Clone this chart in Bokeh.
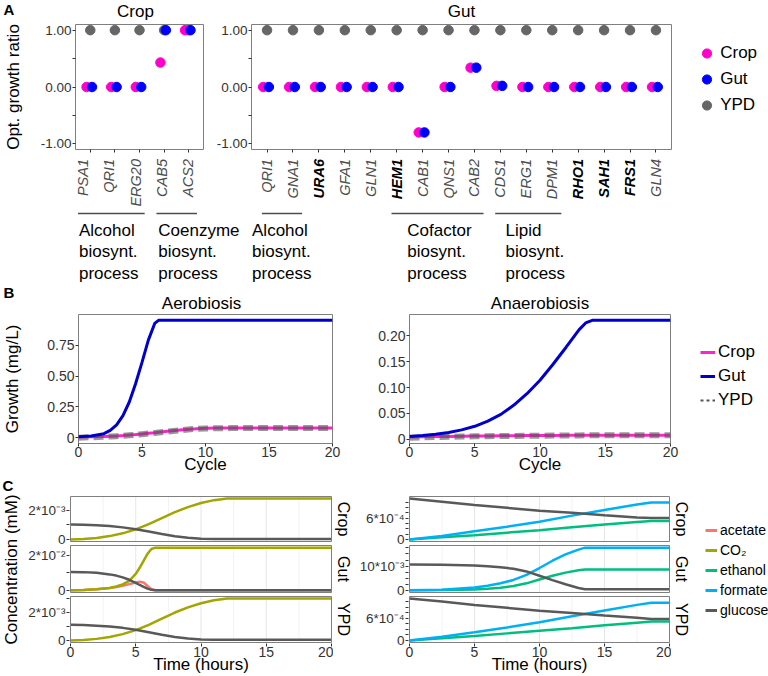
import math

from bokeh.core.properties import value
from bokeh.embed import file_html
from bokeh.layouts import column, row
from bokeh.models import (FixedTicker, Label, Legend, LegendItem,
                          LinearAxis, Range1d)
from bokeh.plotting import figure
from bokeh.resources import INLINE

# ------------------------------------------------------------------ data
# A: optimal growth ratio per deleted gene
crop_genes = ["PSA1", "QRI1", "ERG20", "CAB5", "ACS2"]
crop_genes_crop = [0.0, 0.0, 0.0, 0.43, 1.0]
crop_genes_gut = [0.0, 0.0, 0.0, 1.0, 1.0]
crop_genes_ypd = [1.0, 1.0, 1.0, 1.0, 1.0]

gut_genes = ["QRI1", "GNA1", "URA6", "GFA1", "GLN1", "HEM1", "CAB1", "QNS1",
             "CAB2", "CDS1", "ERG1", "DPM1", "RHO1", "SAH1", "FRS1", "GLN4"]
gut_genes_crop = [0.0, 0.0, 0.0, 0.0, 0.0, 0.0, -0.80, 0.0,
                  0.34, 0.02, 0.0, 0.0, 0.0, 0.0, 0.0, 0.0]
gut_genes_gut = [0.0, 0.0, 0.0, 0.0, 0.0, 0.0, -0.80, 0.0,
                 0.34, 0.02, 0.0, 0.0, 0.0, 0.0, 0.0, 0.0]
gut_genes_ypd = [1.0] * 16
gut_bold_genes = ["URA6", "HEM1", "RHO1", "SAH1", "FRS1"]

# GO process groups: (label, first gene position, last gene position)
crop_groups = [("Alcohol\nbiosynt.\nprocess", 1, 3),
               ("Coenzyme\nbiosynt.\nprocess", 4, 5)]
gut_groups = [("Alcohol\nbiosynt.\nprocess", 1, 2),
              ("Cofactor\nbiosynt.\nprocess", 6, 9),
              ("Lipid\nbiosynt.\nprocess", 10, 12)]

# B: growth curves
b_aer_cycle = [0, 1, 2, 2.5, 3, 3.5, 4, 4.5, 5, 5.5, 6, 6.3, 7, 8, 9, 10, 11, 12, 14, 16, 18, 20]
b_aer_gut = [0.010, 0.015, 0.034, 0.060, 0.105, 0.180, 0.290, 0.440, 0.610, 0.790, 0.925,
             0.950, 0.950, 0.950, 0.950, 0.950, 0.950, 0.950, 0.950, 0.950, 0.950, 0.950]
b_aer_crop = [0.008, 0.009, 0.012, 0.014, 0.016, 0.019, 0.023, 0.027, 0.032, 0.037, 0.042,
              0.046, 0.053, 0.063, 0.072, 0.077, 0.079, 0.079, 0.079, 0.079, 0.079, 0.079]
b_aer_ypd = [0.002, 0.005, 0.009, 0.011, 0.014, 0.017, 0.021, 0.025, 0.030, 0.035, 0.040,
             0.044, 0.051, 0.062, 0.071, 0.076, 0.078, 0.079, 0.079, 0.079, 0.079, 0.079]

b_ana_cycle = [0, 1, 2, 3, 4, 5, 6, 7, 8, 9, 10, 11, 12, 12.5, 13, 13.5, 14, 16, 18, 20]
b_ana_gut = [0.005, 0.007, 0.0095, 0.013, 0.018, 0.025, 0.035, 0.048, 0.066, 0.088, 0.114,
             0.145, 0.178, 0.195, 0.212, 0.225, 0.230, 0.230, 0.230, 0.230]
b_ana_crop = [0.004, 0.0045, 0.005, 0.0054, 0.0057, 0.006, 0.0063, 0.0066, 0.0068, 0.007,
              0.0072, 0.0073, 0.0074, 0.0075, 0.0075, 0.0076, 0.0076, 0.0077, 0.0078, 0.0078]
b_ana_ypd = [0.003, 0.0036, 0.0042, 0.0047, 0.0051, 0.0055, 0.0058, 0.0061, 0.0064, 0.0066,
             0.0068, 0.007, 0.0071, 0.0072, 0.0073, 0.0074, 0.0075, 0.0076, 0.0077, 0.0078]

# C: metabolite concentrations, aerobiosis
c_aer_crop_time = [0, 1, 2, 3, 4, 5, 6, 7, 8, 9, 10, 11, 12, 14, 16, 18, 20]
c_aer_crop_co2 = [0.0, 0.00003, 0.0001, 0.00023, 0.00042, 0.00069, 0.00105, 0.00147, 0.00188,
                  0.00222, 0.0025, 0.0027, 0.00281, 0.00281, 0.00281, 0.00281, 0.00281]
c_aer_crop_glucose = [0.00103, 0.00101, 0.00098, 0.00092, 0.00083, 0.0007, 0.00054, 0.00037,
                      0.00022, 0.00011, 0.00005, 0.00003, 0.00003, 0.00003, 0.00003, 0.00003,
                      0.00003]

c_aer_gut_time = [0, 1, 2, 3, 3.5, 4, 4.5, 5, 5.3, 5.6, 5.9, 6.2, 6.5, 8, 10, 12, 14, 16, 18, 20]
c_aer_gut_acetate = [0.0, 0.0002, 0.0006, 0.0013, 0.0019, 0.0027, 0.0036, 0.0045, 0.0049, 0.0045,
                     0.0025, 0.0006, 0.0001, 0.0001, 0.0001, 0.0001, 0.0001, 0.0001, 0.0001, 0.0001]
c_aer_gut_co2 = [0.0, 0.0002, 0.0006, 0.0014, 0.0022, 0.0034, 0.0055, 0.0095, 0.013, 0.017,
                 0.021, 0.0238, 0.0246, 0.0246, 0.0246, 0.0246, 0.0246, 0.0246, 0.0246, 0.0246]
c_aer_gut_glucose = [0.0106, 0.0105, 0.0101, 0.0092, 0.0085, 0.0075, 0.0061, 0.0043, 0.0031, 0.002,
                     0.001, 0.0003, 0.0001, 0.0001, 0.0001, 0.0001, 0.0001, 0.0001, 0.0001, 0.0001]

c_aer_ypd_time = [0, 1, 2, 3, 4, 5, 6, 7, 8, 9, 10, 11, 12, 14, 16, 18, 20]
c_aer_ypd_co2 = [0.0, 0.00003, 0.00011, 0.00025, 0.00045, 0.00074, 0.00112, 0.00157, 0.002,
                 0.00237, 0.00267, 0.00288, 0.003, 0.003, 0.003, 0.003, 0.003]
c_aer_ypd_glucose = [0.00112, 0.0011, 0.00106, 0.001, 0.0009, 0.00076, 0.00059, 0.00041, 0.00025,
                     0.00013, 0.00006, 0.00004, 0.00004, 0.00004, 0.00004, 0.00004, 0.00004]

# C: metabolite concentrations, anaerobiosis
c_ana_crop_time = [0, 2.5, 5, 7.5, 10, 12.5, 15, 17.5, 18.6, 20]
c_ana_crop_ethanol = [0.0, 0.00006, 0.00012, 0.00019, 0.00026, 0.00034, 0.00042, 0.00049, 0.00052, 0.00052]
c_ana_crop_formate = [0.0, 0.0001, 0.00023, 0.00036, 0.0005, 0.00067, 0.00083, 0.00098, 0.00104, 0.00104]
c_ana_crop_glucose = [0.00115, 0.00106, 0.00097, 0.00089, 0.00081, 0.00075, 0.00068, 0.00062, 0.0006, 0.0006]

c_ana_gut_time = [0, 2.5, 5, 6, 7, 8, 9, 10, 11, 12, 13, 13.5, 15, 17.5, 20]
c_ana_gut_ethanol = [0.0, 0.0001, 0.0004, 0.0007, 0.0011, 0.0018, 0.0029, 0.0045, 0.006, 0.0073,
                     0.0083, 0.0086, 0.0086, 0.0086, 0.0086]
c_ana_gut_formate = [0.0, 0.0003, 0.0012, 0.0019, 0.0029, 0.0043, 0.0064, 0.0092, 0.0122, 0.0148,
                     0.0168, 0.0176, 0.0176, 0.0176, 0.0176]
c_ana_gut_glucose = [0.0107, 0.0106, 0.0102, 0.0099, 0.0095, 0.0089, 0.0078, 0.006, 0.0042, 0.0025,
                     0.001, 0.0005, 0.0005, 0.0005, 0.0005]

c_ana_ypd_time = [0, 2.5, 5, 7.5, 10, 12.5, 15, 17.5, 18.6, 20]
c_ana_ypd_ethanol = [0.0, 0.00006, 0.00012, 0.00019, 0.00026, 0.00033, 0.00041, 0.00048, 0.00051, 0.00051]
c_ana_ypd_formate = [0.0, 0.0001, 0.00022, 0.00035, 0.00049, 0.00065, 0.00081, 0.00096, 0.00102, 0.00102]
c_ana_ypd_glucose = [0.00113, 0.00105, 0.00096, 0.00088, 0.0008, 0.00074, 0.00067, 0.00061, 0.00058, 0.00058]

metabolites = ["acetate", "CO\u2082", "ethanol", "formate", "glucose"]
facet_names = ["Crop", "Gut", "YPD"]

# ------------------------------------------------------------------ styles
FONT = "Liberation Sans"
TICK = "#333333"
FRAME = "#7f7f7f"
DOT = {"Crop": "#FF00CC", "Gut": "#0000FF", "YPD": "#666666"}
LINE = {"Crop": "#FF22CC", "Gut": "#0000CD", "YPD": "#555555"}
MET = {"acetate": "#F8766D", "CO\u2082": "#A3A500", "ethanol": "#00BF7D",
       "formate": "#00B0F6", "glucose": "#595959"}


class Frame:
    """Page placement of one figure and of its plotting frame."""

    def __init__(self, fig_left, fig_top, width, height, left, right, top, bottom, x_range, y_range):
        self.fig_left, self.fig_top = fig_left, fig_top
        self.width, self.height = width, height
        self.left, self.right, self.top, self.bottom = left, right, top, bottom
        self.x_range, self.y_range = x_range, y_range

    def x(self, px):
        x0, x1 = self.x_range
        return x0 + (px - self.left) / (self.right - self.left) * (x1 - x0)

    def y(self, py):
        y0, y1 = self.y_range
        return y0 + (self.bottom - py) / (self.bottom - self.top) * (y1 - y0)

    def py(self, v):
        y0, y1 = self.y_range
        return self.bottom - (v - y0) / (y1 - y0) * (self.bottom - self.top)

    def figure(self, outline=True):
        p = figure(width=self.width, height=self.height,
                   x_range=Range1d(*self.x_range), y_range=Range1d(*self.y_range),
                   x_axis_location=None, y_axis_location=None, title=None,
                   min_border_left=self.left - self.fig_left,
                   min_border_right=self.fig_left + self.width - self.right,
                   min_border_top=self.top - self.fig_top,
                   min_border_bottom=self.fig_top + self.height - self.bottom,
                   output_backend="svg", toolbar_location=None)
        p.grid.visible = False
        p.outline_line_color = FRAME if outline else None
        p.outline_line_width = 1
        p.background_fill_color = "white"
        p.border_fill_color = "white"
        return p


def page_frame(fig_left, fig_top, width, height, top=None, bottom=None):
    """A figure whose data coordinates are page pixels (y grows downwards)."""
    top = fig_top if top is None else top
    bottom = fig_top + height if bottom is None else bottom
    return Frame(fig_left, fig_top, width, height, fig_left, fig_left + width,
                 top, bottom, (fig_left, fig_left + width), (bottom, top))


def text_label(x, y, text, size="17px", color="black", style="normal",
               align="center", baseline="middle", angle=0.0):
    return Label(x=x, y=y, text=text, angle=angle,
                 text_font=FONT, text_font_size=size, text_color=color,
                 text_font_style=style, text_align=align, text_baseline=baseline)


def add_text(p, fr, px, py, text, **kw):
    p.add_layout(text_label(fr.x(px), fr.y(py), text, **kw))


def style_axis(ax, size, title, title_standoff):
    ax.axis_line_color = None
    ax.major_tick_in = 0
    ax.major_tick_out = 3
    ax.minor_tick_in = 0
    ax.minor_tick_out = 3
    ax.major_tick_line_color = TICK
    ax.minor_tick_line_color = TICK
    ax.major_label_text_font = FONT
    ax.major_label_text_font_size = size
    ax.major_label_text_color = TICK
    ax.major_label_standoff = 1
    if title:
        ax.axis_label = title
        ax.axis_label_standoff = title_standoff
        ax.axis_label_text_font = FONT
        ax.axis_label_text_font_size = "17px"
        ax.axis_label_text_font_style = "normal"
        ax.axis_label_text_color = "black"


def add_yaxis(p, ticks, labels, minor=(), size="14px", title=None, title_standoff=10):
    ax = LinearAxis(ticker=FixedTicker(ticks=list(ticks), minor_ticks=list(minor)))
    ax.major_label_overrides = dict(zip(ticks, labels))
    style_axis(ax, size, title, title_standoff)
    p.add_layout(ax, "left")


def add_xaxis(p, ticks, labels, size="14px", title=None, title_standoff=0):
    ax = LinearAxis(ticker=FixedTicker(ticks=list(ticks)))
    ax.major_label_overrides = dict(zip(ticks, labels))
    style_axis(ax, size, title, title_standoff)
    ax.major_label_standoff = 0
    p.add_layout(ax, "below")


def padded(*series):
    lo = min(min(s) for s in series)
    hi = max(max(s) for s in series)
    pad = 0.05 * (hi - lo)
    return (lo - pad, hi + pad)


def legend_figure(fr, entries, glyph_w, glyph_h, standoff, size, key_center_x, first_center_y):
    p = fr.figure(outline=False)
    items = []
    off = -1.0e6  # the key renderers hold one point far outside the view
    for label, kind, style in entries:
        if kind == "dot":
            r = p.scatter(x=[off], y=[off], marker="circle", **style)
        else:
            r = p.line(x=[off, off - 1], y=[off, off], **style)
        items.append(LegendItem(label=label, renderers=[r]))
    vx = key_center_x - fr.left - glyph_w / 2
    legend_bottom = first_center_y - glyph_h / 2 + glyph_h * len(entries)
    vy = fr.bottom - legend_bottom
    leg = Legend(items=items, location=(vx, vy), orientation="vertical",
                 glyph_width=glyph_w, glyph_height=glyph_h, label_height=glyph_h,
                 label_width=10, spacing=0, padding=0, margin=0, label_standoff=standoff,
                 label_text_font=FONT, label_text_font_size=size, label_text_color="black",
                 border_line_color=None, background_fill_alpha=0)
    p.add_layout(leg)
    return p


# ------------------------------------------------------------------ panel A
A_YR = (-1.1, 1.1)
crop_fr = Frame(0, 21, 207, 134, 67, 203, 24, 149, (0.4, len(crop_genes) + 0.6), A_YR)
gut_fr = Frame(207, 21, 483, 134, 251, 671, 24, 149, (0.4, len(gut_genes) + 0.6), A_YR)

titleA_fr = page_frame(0, 0, 768, 21)
titleA = titleA_fr.figure(outline=False)
add_text(titleA, titleA_fr, 3, 8.5, "A", size="15px", style="bold", align="left")
add_text(titleA, titleA_fr, (crop_fr.left + crop_fr.right) / 2, 11.3, "Crop")
add_text(titleA, titleA_fr, (gut_fr.left + gut_fr.right) / 2, 11.3, "Gut")


def dot_panel(fr, vals_crop, vals_gut, vals_ypd, ytitle=None):
    p = fr.figure()
    pos = list(range(1, len(vals_crop) + 1))
    p.scatter(pos, vals_ypd, size=9.5, color=DOT["YPD"])
    p.scatter([i - 0.15 for i in pos], vals_crop, size=9.5, color=DOT["Crop"])
    p.scatter([i + 0.07 for i in pos], vals_gut, size=9.5, color=DOT["Gut"])
    add_yaxis(p, [-1, 0, 1], ["-1.00", "0.00", "1.00"], minor=[-0.5, 0.5],
              size="13.5px", title=ytitle, title_standoff=15)
    # gene ticks only; the gene names are set in the strip below
    add_xaxis(p, pos, [""] * len(pos), size="0px")
    return p


figA1 = dot_panel(crop_fr, crop_genes_crop, crop_genes_gut, crop_genes_ypd, "Opt. growth ratio")
figA2 = dot_panel(gut_fr, gut_genes_crop, gut_genes_gut, gut_genes_ypd)

legA_fr = page_frame(690, 21, 78, 134, top=24, bottom=149)
legA = legend_figure(legA_fr, [(k, "dot", dict(size=9.5, color=DOT[k])) for k in ("Crop", "Gut", "YPD")],
                     glyph_w=23, glyph_h=26, standoff=2, size="17px",
                     key_center_x=706.7, first_center_y=52.7)

# gene names, process brackets and process names below the dot panels
strip_fr = page_frame(0, 155, 768, 127)
stripA = strip_fr.figure(outline=False)
stripA.extra_x_ranges = {"crop": Range1d(crop_fr.x(0), crop_fr.x(768)),
                         "gut": Range1d(gut_fr.x(0), gut_fr.x(768))}
group_text_shift = {"crop": [-0.16, -0.13], "gut": [-0.58, 0.41, 0.2]}
for name, genes, bold, groups in (("crop", crop_genes, [], crop_groups),
                                  ("gut", gut_genes, gut_bold_genes, gut_groups)):
    pos = list(range(1, len(genes) + 1))
    n = len(genes)
    stripA.text(x=pos, y=[158.5] * n, text=genes, angle=math.pi / 2, x_range_name=name,
                text_font=value(FONT), text_font_size="14.5px",
                text_font_style=["bold italic" if g in bold else "italic" for g in genes],
                text_color=["black" if g in bold else "#4d4d4d" for g in genes],
                text_align="right", text_baseline="middle")
    m = len(groups)
    stripA.segment(x0=[g[1] - 0.2 for g in groups], x1=[g[2] + 0.35 for g in groups],
                   y0=[213] * m, y1=[213] * m, x_range_name=name,
                   line_color="#4d4d4d", line_width=1.6)
    stripA.text(x=[g[1] + s for g, s in zip(groups, group_text_shift[name])], y=[220] * m,
                text=[g[0] for g in groups], x_range_name=name,
                text_font=value(FONT), text_font_size="17px", text_align="left",
                text_baseline="top", text_line_height=1.15, text_color="black")

# ------------------------------------------------------------------ panel B
aer_fr = Frame(0, 313, 345, 163, 70, 332, 314, 443, (0, 20),
               padded(b_aer_gut, b_aer_crop, b_aer_ypd))
ana_fr = Frame(345, 313, 345, 163, 409, 670, 314, 443, (0, 20),
               padded(b_ana_gut, b_ana_crop, b_ana_ypd))

titleB_fr = page_frame(0, 282, 768, 31)
titleB = titleB_fr.figure(outline=False)
add_text(titleB, titleB_fr, 3, 292, "B", size="15px", style="bold", align="left")
add_text(titleB, titleB_fr, (aer_fr.left + aer_fr.right) / 2, 302.5, "Aerobiosis")
add_text(titleB, titleB_fr, (ana_fr.left + ana_fr.right) / 2, 302.5, "Anaerobiosis")


def growth_panel(fr, cycles, crop, gut, ypd, ticks, labels, ytitle=None):
    p = fr.figure()
    p.line(cycles, crop, line_color=LINE["Crop"], line_width=3)
    p.line(cycles, ypd, line_color=LINE["YPD"], line_width=6, line_alpha=0.6, line_dash="10 5")
    p.line(cycles, gut, line_color=LINE["Gut"], line_width=3)
    add_yaxis(p, ticks, labels, title=ytitle, title_standoff=22)
    add_xaxis(p, [0, 5, 10, 15, 20], ["0", "5", "10", "15", "20"], title="Cycle", title_standoff=-5)
    return p


figB1 = growth_panel(aer_fr, b_aer_cycle, b_aer_crop, b_aer_gut, b_aer_ypd,
                     [0, 0.25, 0.5, 0.75], ["0", "0.25", "0.50", "0.75"], "Growth (mg/L)")
figB2 = growth_panel(ana_fr, b_ana_cycle, b_ana_crop, b_ana_gut, b_ana_ypd,
                     [0, 0.05, 0.1, 0.15, 0.2], ["0", "0.05", "0.10", "0.15", "0.20"])

legB_fr = page_frame(690, 313, 78, 163, top=314, bottom=443)
legB = legend_figure(legB_fr, [("Crop", "line", dict(line_color=LINE["Crop"], line_width=3)),
                               ("Gut", "line", dict(line_color=LINE["Gut"], line_width=3)),
                               ("YPD", "line", dict(line_color=LINE["YPD"], line_width=2,
                                                    line_dash="3 3"))],
                     glyph_w=15, glyph_h=24, standoff=3, size="17px",
                     key_center_x=707.5, first_center_y=352)

# ------------------------------------------------------------------ panel C
# three facets (Crop, Gut, YPD) stacked in one frame, each with its own y scale
C_TOP, C_BOTTOM = 476, 676
facet_bands = [(496, 541), (545, 592), (596, 642)]

aer_series = [
    (c_aer_crop_time, {"CO\u2082": c_aer_crop_co2, "glucose": c_aer_crop_glucose}),
    (c_aer_gut_time, {"acetate": c_aer_gut_acetate, "CO\u2082": c_aer_gut_co2,
                      "glucose": c_aer_gut_glucose}),
    (c_aer_ypd_time, {"CO\u2082": c_aer_ypd_co2, "glucose": c_aer_ypd_glucose}),
]
ana_series = [
    (c_ana_crop_time, {"ethanol": c_ana_crop_ethanol, "formate": c_ana_crop_formate,
                       "glucose": c_ana_crop_glucose}),
    (c_ana_gut_time, {"ethanol": c_ana_gut_ethanol, "formate": c_ana_gut_formate,
                      "glucose": c_ana_gut_glucose}),
    (c_ana_ypd_time, {"ethanol": c_ana_ypd_ethanol, "formate": c_ana_ypd_formate,
                      "glucose": c_ana_ypd_glucose}),
]
E3, E2, E4 = "10\u207b\u00b3", "10\u207b\u00b2", "10\u207b\u2074"
aer_ticks = [([0, 0.002], ["0", "2*" + E3], [0.001, 0.003]),
             ([0, 0.02], ["0", "2*" + E2], [0.01]),
             ([0, 0.002], ["0", "2*" + E3], [0.001, 0.003])]
ana_ticks = [([0, 0.0006], ["0", "6*" + E4], [0.00015, 0.0003, 0.00045, 0.00075, 0.0009, 0.00105]),
             ([0, 0.01], ["0", "10*" + E3], [0.0025, 0.005, 0.0075, 0.0125, 0.015, 0.0175]),
             ([0, 0.0006], ["0", "6*" + E4], [0.00015, 0.0003, 0.00045, 0.00075, 0.0009, 0.00105])]
grid_times = [2.5, 5, 7.5, 10, 12.5, 15, 17.5]


def conc_column(fig_left, width, x0_px, x1_px, series, ticks):
    top_px, bottom_px = facet_bands[0][0] - 1, facet_bands[-1][1] + 1
    facets = [Frame(fig_left, C_TOP, width, C_BOTTOM - C_TOP, x0_px, x1_px, top, bottom,
                    (0, 20), padded(*vals.values()))
              for (top, bottom), (t, vals) in zip(facet_bands, series)]
    whole = Frame(fig_left, C_TOP, width, C_BOTTOM - C_TOP, x0_px - 1, x1_px + 1, top_px, bottom_px,
                  (facets[0].x(x0_px - 1), facets[0].x(x1_px + 1)), (bottom_px, top_px))
    p = whole.figure(outline=False)
    p.extra_y_ranges = {f"f{k}": Range1d(fk.y(bottom_px), fk.y(top_px)) for k, fk in enumerate(facets)}
    tick_pos, tick_lab, minor_pos = [], [], []
    for k, (fk, (t, vals), (tk, tl, mn)) in enumerate(zip(facets, series, ticks)):
        name = f"f{k}"
        y0, y1 = fk.y_range
        ng = len(grid_times)
        p.segment(x0=grid_times, x1=grid_times, y0=[y0] * ng, y1=[y1] * ng, y_range_name=name,
                  line_color=["#e6e6e6" if g % 5 == 0 else "#f2f2f2" for g in grid_times],
                  line_width=1)
        for m in metabolites:
            if m in vals:
                p.line(t, vals[m], y_range_name=name, line_color=MET[m], line_width=2.5)
        p.quad(left=[0], right=[20], bottom=[y0], top=[y1], y_range_name=name,
               fill_color=None, line_color=FRAME, line_width=1)
        tick_pos += [fk.py(v) for v in tk]
        tick_lab += tl
        minor_pos += [fk.py(v) for v in mn if y0 <= v <= y1]
    add_yaxis(p, tick_pos, tick_lab, minor=minor_pos, size="13.5px")
    add_xaxis(p, [0, 5, 10, 15, 20], ["0", "5", "10", "15", "20"],
              title="Time (hours)", title_standoff=-5)
    # wrapped on its own so the row does not line its frame up with the text strips
    return column(p)


def facet_strip(fig_left, width):
    fr = page_frame(fig_left, C_TOP, width, C_BOTTOM - C_TOP)
    p = fr.figure(outline=False)
    for (top, bottom), name in zip(facet_bands, facet_names):
        add_text(p, fr, fig_left + width / 2, (top + bottom) / 2, name, size="16px", angle=-math.pi / 2)
    return p


ylab_fr = page_frame(0, C_TOP, 24, C_BOTTOM - C_TOP)
ylabC = ylab_fr.figure(outline=False)
add_text(ylabC, ylab_fr, 2, 485, "C", size="15px", style="bold", align="left")
add_text(ylabC, ylab_fr, 10.5, 569, "Concentration (mM)", angle=math.pi / 2)

colC1 = conc_column(24, 309, 70, 331, aer_series, aer_ticks)
stripC1 = facet_strip(333, 19)
colC2 = conc_column(352, 319, 409, 669, ana_series, ana_ticks)
stripC2 = facet_strip(671, 19)

legC_fr = page_frame(690, C_TOP, 78, C_BOTTOM - C_TOP)
legC = legend_figure(legC_fr, [(m, "line", dict(line_color=MET[m], line_width=3)) for m in metabolites],
                     glyph_w=12, glyph_h=20, standoff=3, size="14px",
                     key_center_x=711, first_center_y=530)

layout = column(titleA, row(figA1, figA2, legA), stripA,
                titleB, row(figB1, figB2, legB),
                row(ylabC, colC1, stripC1, colC2, stripC2, legC))

with open("out.html", "w") as f:
    f.write(file_html(layout, INLINE, title="Growth"))
